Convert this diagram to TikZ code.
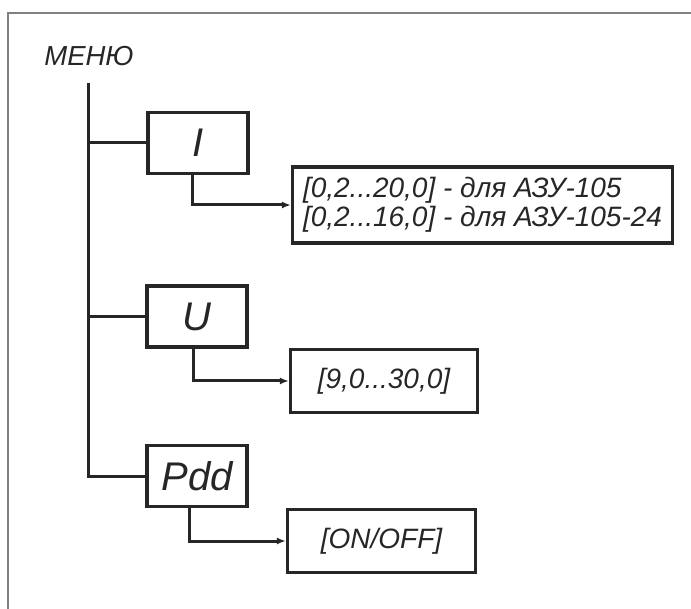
\documentclass[tikz,border=0pt]{standalone}
\usepackage{fontspec}
\setmainfont{Liberation Sans}
\usetikzlibrary{arrows.meta}
\definecolor{inkclr}{HTML}{262626}
\definecolor{frameclr}{HTML}{808080}
\begin{document}
\begin{tikzpicture}[x=1pt, y=-1pt, inkclr,
    menubox/.style={draw, line width=3.2pt, minimum width=100pt, minimum height=61pt, inner sep=0pt,
      font=\fontsize{40}{44}\selectfont\itshape},
    rangebox/.style={draw, line width=3.2pt, minimum height=63pt, align=left,
      font=\fontsize{28}{29}\selectfont\itshape},
    link/.style={line width=3pt},
    arr/.style={line width=3pt, -{Latex[length=9pt,width=7pt]}}]
  \useasboundingbox (0,0) rectangle (691,609);
  \draw[frameclr, line width=1.6pt] (8,609) -- (8,13) -- (691,13);
  \node[font=\fontsize{27.5}{30}\selectfont\itshape] (menu) at (89,56.5) {МЕНЮ};
  \coordinate (trunk) at (88,83);
  % menu items
  \node[menubox] (I) at (198,143) {I};
  \node[menubox] (U) at (197,316.5) {U};
  \node[menubox] (Pdd) at (197,476) {Pdd};
  % value ranges
  \node[rangebox, minimum width=380pt, minimum height=76pt] (rI) at (482.5,205)
    {[0,2...20,0] - для АЗУ-105\\{}[0,2...16,0] - для АЗУ-105-24};
  \node[rangebox, minimum width=187pt] (rU) at (384,381) {[9,0...30,0]};
  \node[rangebox, minimum width=188pt] (rPdd) at (381.5,541) {[ON/OFF]};
  % tree lines
  \draw[link] (trunk) |- (Pdd.west);
  \draw[link] (trunk |- I) -- (I.west);
  \draw[link] (trunk |- U) -- (U.west);
  \draw[arr] ([xshift=-6pt]I.south) |- (rI);
  \draw[arr] ([xshift=-4pt]U.south) |- (rU);
  \draw[arr] ([xshift=-8pt]Pdd.south) |- (rPdd);
\end{tikzpicture}
\end{document}
